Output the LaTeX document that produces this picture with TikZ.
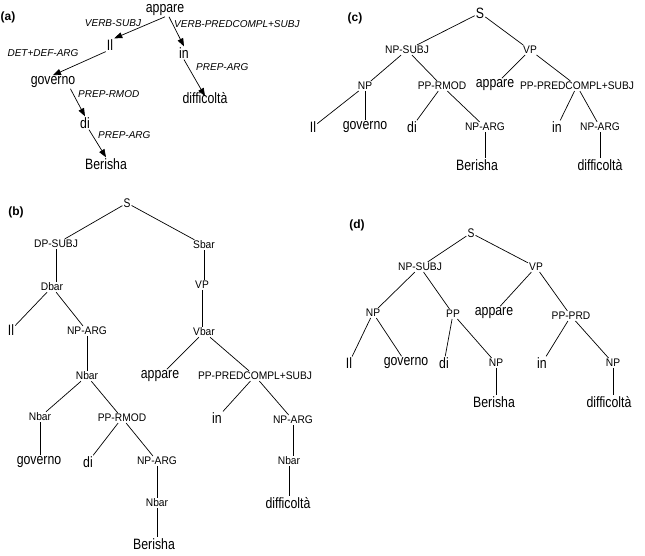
\documentclass[tikz,border=0pt]{standalone}
\usepackage{fontspec}
\setmainfont{Liberation Sans}
\newfontfamily\wordfont{Liberation Sans}[FakeStretch=0.82]
\newfontfamily\catfont{Liberation Sans}[FakeStretch=0.93]
\usetikzlibrary{arrows.meta}

\begin{document}
\begin{tikzpicture}[x=1pt, y=-1pt, inner sep=1pt,
    word/.style={font=\wordfont\fontsize{15}{16}\selectfont},
    root/.style={font=\wordfont\fontsize{12.5}{13}\selectfont},
    cat/.style={font=\catfont\fontsize{11}{12}\selectfont},
    rel/.style={font=\fontsize{10}{11}\selectfont\itshape},
    panel/.style={font=\fontsize{12}{13}\selectfont\bfseries},
    branch/.style={line width=0.7pt},
    dep/.style={line width=0.7pt, -{Triangle[length=8pt, width=6pt]}}]
    \useasboundingbox (0,0) rectangle (645,555);

    % (a) dependency tree
    \node[panel] (lbla) at (8,17) {(a)};
    \node[word] (a-app) at (165,10) {appare};
    \node[word] (a-il)  at (110,45) {Il};
    \node[word] (a-in)  at (184,53) {in};
    \node[word] (a-gov) at (53,82) {governo};
    \node[word] (a-dif) at (205,98) {difficoltà};
    \node[word] (a-di)  at (85,123) {di};
    \node[word] (a-ber) at (106,164) {Berisha};

    \node[rel] (r-vs) at (113,23) {VERB-SUBJ};
    \node[rel, anchor=west] (r-vp) at (173,24) {VERB-PREDCOMPL+SUBJ};
    \node[rel] (r-dd) at (43,53) {DET+DEF-ARG};
    \node[rel, anchor=west] (r-pa1) at (195,67) {PREP-ARG};
    \node[rel, anchor=west] (r-pr) at (77,94) {PREP-RMOD};
    \node[rel, anchor=west] (r-pa2) at (97,135) {PREP-ARG};

    \draw[dep] (a-app.south) -- (a-il.north east);
    \draw[dep] ([xshift=4pt]a-app.south) -- (a-in.north);
    \draw[dep] (a-il.south west) -- (a-gov.north);
    \draw[dep] (a-in.south) -- ([yshift=-5pt]a-dif.north);
    \draw[dep] ([xshift=-6pt]a-gov.south east) -- (a-di.north);
    \draw[dep] ([xshift=4pt]a-di.south) -- (a-ber.north);

    % (b) constituency tree
    \node[panel] (lblb) at (16,212) {(b)};
    \node[root] (b-s)     at (127,203) {S};
    \node[cat]  (b-dps)   at (56,244) {DP-SUBJ};
    \node[cat]  (b-sbar)  at (204,245) {Sbar};
    \node[cat]  (b-dbar)  at (52,287) {Dbar};
    \node[cat]  (b-vp)    at (202,285) {VP};
    \node[word] (b-il)    at (11,330) {Il};
    \node[cat]  (b-na1)   at (87,331) {NP-ARG};
    \node[cat]  (b-vbar)  at (204,332) {Vbar};
    \node[cat]  (b-nbar1) at (87,376) {Nbar};
    \node[word] (b-app)   at (160,376) {appare};
    \node[cat]  (b-ppc)   at (255,376) {PP-PREDCOMPL+SUBJ};
    \node[cat]  (b-nbar2) at (40,417) {Nbar};
    \node[cat]  (b-pprm)  at (122,418) {PP-RMOD};
    \node[word] (b-in)    at (217,418) {in};
    \node[cat]  (b-na3)   at (293,420) {NP-ARG};
    \node[word] (b-gov)   at (39,462) {governo};
    \node[word] (b-di)    at (88,462) {di};
    \node[cat]  (b-na2)   at (157,461) {NP-ARG};
    \node[cat]  (b-nbar4) at (289,461) {Nbar};
    \node[cat]  (b-nbar3) at (157,503) {Nbar};
    \node[word] (b-dif)   at (288,503) {difficoltà};
    \node[word] (b-ber)   at (154,544) {Berisha};

    \foreach \p/\c in {b-s/b-dps, b-s/b-sbar, b-dbar/b-il, b-dbar/b-na1,
        b-nbar1/b-nbar2, b-nbar1/b-pprm, b-pprm/b-di, b-pprm/b-na2,
        b-vbar/b-app, b-vbar/b-ppc, b-ppc/b-in, b-ppc/b-na3}
        \draw[branch] (\p) -- (\c);
    \foreach \p/\c in {b-dps/b-dbar, b-na1/b-nbar1, b-nbar2/b-gov,
        b-na2/b-nbar3, b-nbar3/b-ber, b-sbar/b-vp, b-vp/b-vbar,
        b-na3/b-nbar4, b-nbar4/b-dif}
        \draw[branch] (\p.south) -- (\p.south |- \c.north);

    % (c) constituency tree
    \node[panel] (lblc) at (355,18) {(c)};
    \node[word] (c-s)    at (480,13) {S};
    \node[cat]  (c-nps)  at (407,50) {NP-SUBJ};
    \node[cat]  (c-vp)   at (530,50) {VP};
    \node[cat]  (c-np)   at (365,86) {NP};
    \node[cat]  (c-pprm) at (442,86) {PP-RMOD};
    \node[word] (c-app)  at (495,85) {appare};
    \node[cat]  (c-ppc)  at (577,86) {PP-PREDCOMPL+SUBJ};
    \node[word] (c-il)   at (313,127) {Il};
    \node[word] (c-gov)  at (365,127) {governo};
    \node[word] (c-di)   at (412,127) {di};
    \node[cat]  (c-na1)  at (485,127) {NP-ARG};
    \node[word] (c-in)   at (557,127) {in};
    \node[cat]  (c-na2)  at (600,127) {NP-ARG};
    \node[word] (c-ber)  at (477,165) {Berisha};
    \node[word] (c-dif)  at (600,165) {difficoltà};

    \foreach \p/\c in {c-s/c-nps, c-s/c-vp, c-nps/c-np, c-nps/c-pprm,
        c-np/c-il, c-np/c-gov, c-pprm/c-di, c-pprm/c-na1,
        c-vp/c-app, c-vp/c-ppc, c-ppc/c-in, c-ppc/c-na2}
        \draw[branch] (\p) -- (\c);
    \foreach \p/\c in {c-na1/c-ber, c-na2/c-dif}
        \draw[branch] (\p.south) -- (\p.south |- \c.north);

    % (d) constituency tree
    \node[panel] (lbld) at (357,225) {(d)};
    \node[root] (d-s)   at (471,233) {S};
    \node[cat]  (d-nps) at (420,267) {NP-SUBJ};
    \node[cat]  (d-vp)  at (536,267) {VP};
    \node[cat]  (d-np1) at (373,313) {NP};
    \node[cat]  (d-pp)  at (453,314) {PP};
    \node[word] (d-app) at (494,313) {appare};
    \node[cat]  (d-ppp) at (571,316) {PP-PRD};
    \node[word] (d-il)  at (349,363) {Il};
    \node[word] (d-gov) at (406,363) {governo};
    \node[word] (d-di)  at (444,363) {di};
    \node[cat]  (d-np2) at (496,363) {NP};
    \node[word] (d-in)  at (542,363) {in};
    \node[cat]  (d-np3) at (613,363) {NP};
    \node[word] (d-ber) at (494,402) {Berisha};
    \node[word] (d-dif) at (609,402) {difficoltà};

    \foreach \p/\c in {d-s/d-nps, d-s/d-vp, d-nps/d-np1, d-nps/d-pp,
        d-np1/d-il, d-np1/d-gov, d-pp/d-di, d-pp/d-np2,
        d-vp/d-app, d-vp/d-ppp, d-ppp/d-in, d-ppp/d-np3}
        \draw[branch] (\p) -- (\c);
    \foreach \p/\c in {d-np2/d-ber, d-np3/d-dif}
        \draw[branch] (\p.south) -- (\p.south |- \c.north);
\end{tikzpicture}
\end{document}
